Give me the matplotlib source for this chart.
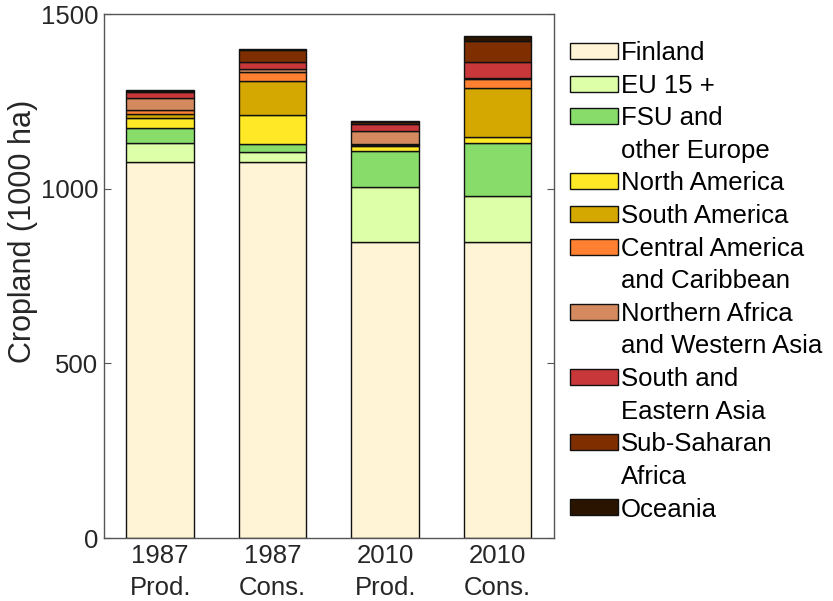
import numpy as np
import matplotlib.pyplot as plt
from matplotlib.patches import Patch

plt.rcParams['font.family'] = ['Liberation Sans', 'DejaVu Sans']

# bars
bar_labels = ['1987\nProd.', '1987\nCons.', '2010\nProd.', '2010\nCons.']

# cropland by region (1000 ha), bottom to top
regions = ['Finland', 'EU 15 +', 'FSU and\nother Europe', 'North America',
           'South America', 'Central America\nand Caribbean',
           'Northern Africa\nand Western Asia', 'South and\nEastern Asia',
           'Sub-Saharan\nAfrica', 'Oceania']
finland = [1077, 1076, 847, 847]
eu15 = [53, 28, 159, 131]
fsu = [43, 24, 102, 153]
north_am = [29, 84, 13, 18]
south_am = [12, 95, 4, 139]
central_am = [10, 28, 3, 26]
n_africa = [36, 8, 37, 3]
se_asia = [17, 20, 19, 47]
ss_africa = [3, 34, 8, 60]
oceania = [2, 3, 2, 13]
values = [finland, eu15, fsu, north_am, south_am, central_am,
          n_africa, se_asia, ss_africa, oceania]

colors = ['#fff5d6', '#ddffa8', '#88dd6a', '#ffe826', '#d4a800',
          '#ff8030', '#d48a5e', '#c8383a', '#7f2e00', '#2a1400']

fig = plt.figure(figsize=(8.33, 6.01), dpi=100)
ax = fig.add_axes([0.1248, 0.1048, 0.5402, 0.8719])

x = np.arange(1, len(bar_labels) + 1)
bottom = np.zeros(len(x))
for vals, col in zip(values, colors):
    ax.bar(x, vals, 0.6, bottom=bottom, color=col, edgecolor='#111111',
           linewidth=1.0)
    bottom += np.array(vals)

ax.set_xlim(0.5, 4.5)
ax.set_ylim(0, 1500)
ax.set_yticks([0, 500, 1000, 1500])
ax.set_xticks(x)
ax.set_xticklabels(bar_labels, linespacing=1.42)
ax.tick_params(axis='both', labelsize=18.5, labelcolor='#262626',
               direction='in', length=5, color='#555555')
ax.tick_params(axis='y', right=True, pad=4)
ax.tick_params(axis='x', length=0, pad=4)
for s in ax.spines.values():
    s.set_color('#555555')
    s.set_linewidth(1.0)
ax.set_ylabel('Cropland (1000 ha)', fontsize=22, color='#262626')
ax.yaxis.set_label_coords(-0.146, 0.586)

# legend, one row per text line
handles, labels = [], []
for name, col in zip(regions, colors):
    parts = name.split('\n')
    handles.append(Patch(facecolor=col, edgecolor='#111111', linewidth=1.0))
    labels.append(parts[0])
    for p in parts[1:]:
        handles.append(Patch(facecolor='none', edgecolor='none'))
        labels.append(p)

fig.legend(handles, labels, loc='upper left',
           bbox_to_anchor=(570 / 833, 1 - 41 / 601), frameon=False,
           fontsize=18.5, handlelength=1.87, handleheight=0.58,
           handletextpad=0.12, labelspacing=0.335, borderpad=0,
           borderaxespad=0)

fig.savefig('out.png', dpi=100)
